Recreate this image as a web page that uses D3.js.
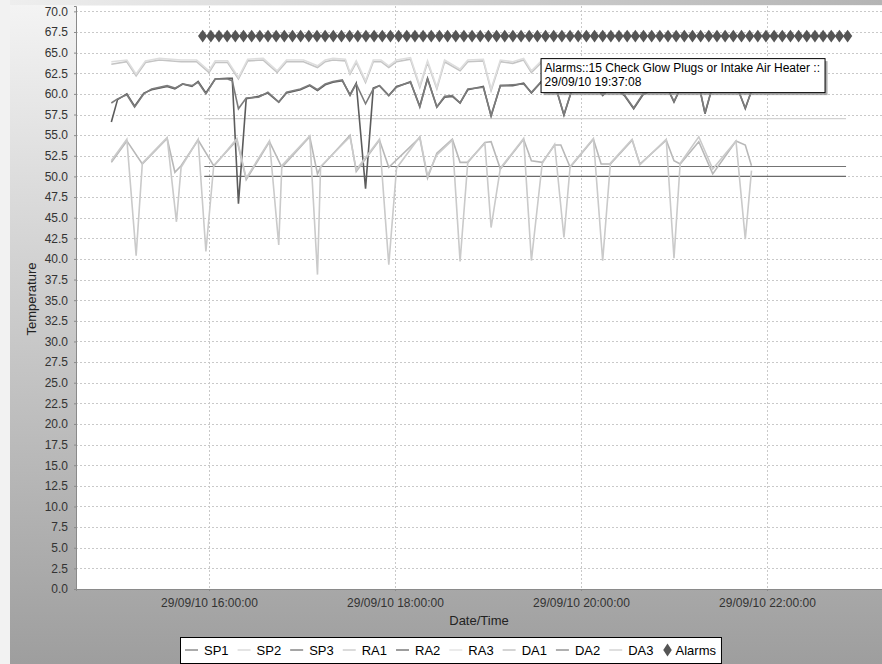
<!DOCTYPE html>
<html>
<head>
<meta charset="utf-8">
<script src="https://cdn.jsdelivr.net/npm/d3@7/dist/d3.min.js"></script>
<style>
body{margin:0;background:#f2f2f2;overflow:hidden}
svg{display:block;font-family:"Liberation Sans",Arial,Helvetica,sans-serif}
</style>
</head>
<body>
<svg id="chart" width="882" height="664"></svg>
<script>
// ---- data (29/09/10) ----
const yTicks = [0,2.5,5,7.5,10,12.5,15,17.5,20,22.5,25,27.5,30,32.5,35,37.5,40,42.5,45,47.5,50,52.5,55,57.5,60,62.5,65,67.5,70];
const xTicks = ["16:00","18:00","20:00","22:00"];

// set points
const spTimes = ["15:57","22:51"];
const sp1 = [51.2,51.2];
const sp2 = [57.0,57.0];
const sp3 = [50.0,50.0];

// return air 1 + 3
const raTimes = ["14:57","15:07","15:13","15:19","15:28","15:42","15:52","16:00","16:04","16:12","16:19","16:25","16:35","16:44","16:50","17:01","17:10","17:15","17:20","17:28","17:31","17:35","17:41","17:46","17:51","17:56","18:01","18:10","18:16","18:21","18:27","18:32","18:42","18:47","18:57","19:02","19:08","19:16","19:23","19:28","19:35","19:43","19:49","19:55","20:08","20:14","20:20","20:34","20:40","20:55","21:00","21:05","21:16","21:20","21:25","21:40","21:46","21:50"];
const ra1 = [63.6,63.9,62.2,63.8,64.1,63.9,63.9,62.6,63.8,63.8,61.8,64.0,64.1,62.6,63.9,63.9,63.2,63.9,64.1,64.0,62.4,63.8,61.4,63.9,63.9,63.2,63.9,64.2,60.8,63.8,60.6,63.9,62.8,63.9,64.0,60.4,63.9,63.7,64.1,62.6,63.9,63.9,61.7,63.9,64.0,62.2,63.9,61.9,63.9,64.0,62.5,63.9,64.0,61.6,63.9,64.0,62.2,63.8];
const ra3 = [63.9,64.1,62.4,64.0,64.3,64.1,64.1,62.8,64.0,64.0,62.0,64.2,64.3,62.8,64.1,64.1,63.4,64.1,64.3,64.2,62.6,64.0,61.6,64.1,64.1,63.4,64.1,64.4,61.0,64.0,60.8,64.1,63.0,64.1,64.2,60.6,64.1,63.9,64.3,62.8,64.1,64.1,61.9,64.1,64.2,62.4,64.1,62.1,64.1,64.2,62.7,64.1,64.2,61.8,64.1,64.2,62.4,64.0];

// return air 2 + discharge air 2
const midTimes = ["14:57","15:01","15:07","15:12","15:18","15:23","15:33","15:38","15:43","15:49","15:53","15:58","16:04","16:12","16:15","16:19","16:24","16:32","16:38","16:45","16:50","16:59","17:05","17:10","17:15","17:20","17:26","17:31","17:35","17:41","17:46","17:50","17:56","18:01","18:10","18:16","18:21","18:27","18:32","18:37","18:42","18:47","18:57","19:02","19:08","19:16","19:23","19:28","19:35","19:43","19:49","19:55","20:08","20:14","20:20","20:28","20:34","20:40","20:46","20:55","21:00","21:05","21:16","21:20","21:25","21:40","21:46","21:50"];
const ra2 = [56.6,59.3,60.0,58.5,60.1,60.5,60.9,60.6,61.2,60.9,61.5,60.1,61.8,61.9,61.9,46.7,59.4,59.7,60.1,59.0,60.1,60.5,61.0,60.4,61.1,61.4,61.6,59.9,61.3,48.5,60.7,61.0,59.8,60.9,61.4,58.5,61.9,58.4,59.6,59.7,58.9,60.5,60.9,57.3,61.0,61.0,61.3,60.1,61.6,61.3,57.4,61.0,61.2,59.8,61.0,59.8,58.2,59.9,60.5,61.0,59.0,61.0,61.2,57.6,61.0,61.2,58.2,60.4];
const da2 = [58.9,59.4,59.9,58.4,60.0,60.6,61.0,60.7,61.2,61.0,61.4,60.0,61.8,61.8,61.6,58.2,59.5,59.6,60.2,59.0,60.2,60.6,61.1,60.5,61.2,61.5,61.7,59.8,61.2,58.8,60.6,61.0,59.8,60.8,61.5,58.4,61.8,58.4,59.7,59.8,58.9,60.6,60.8,57.4,61.0,61.1,61.2,60.2,61.6,61.2,57.5,61.0,61.1,59.9,61.0,59.9,58.3,60.0,60.4,61.0,59.1,61.0,61.1,57.7,61.0,61.1,58.3,60.3];

// discharge air 1
const da1Times = ["14:57","15:07","15:17","15:33","15:38","15:42","15:53","16:03","16:18","16:24","16:39","16:47","17:05","17:10","17:12","17:31","17:35","17:50","17:56","18:16","18:21","18:27","18:37","18:42","18:47","18:58","19:02","19:08","19:23","19:28","19:35","19:43","19:47","19:53","20:08","20:13","20:19","20:33","20:38","20:55","21:00","21:04","21:16","21:25","21:40","21:46","21:50"];
const da1 = [51.7,54.3,51.5,54.6,50.5,51.3,54.4,51.3,54.4,49.6,54.2,51.1,54.8,50.3,51.1,55.0,50.6,54.4,51.1,54.7,49.8,52.8,54.5,51.7,51.7,54.1,54.2,50.9,54.5,51.9,51.7,53.8,53.8,51.1,54.5,51.5,51.5,54.4,51.5,54.4,51.9,51.5,54.2,50.3,54.3,53.8,51.3];

// discharge air 3
const da3Times = ["14:57","15:07","15:13","15:17","15:33","15:39","15:42","15:53","15:58","16:03","16:18","16:24","16:39","16:45","16:47","17:05","17:10","17:12","17:31","17:35","17:50","17:56","18:01","18:16","18:21","18:27","18:37","18:42","18:47","18:58","19:02","19:08","19:23","19:28","19:35","19:43","19:49","19:53","20:08","20:14","20:19","20:33","20:38","20:55","21:00","21:04","21:16","21:25","21:40","21:46","21:50"];
const da3 = [51.9,54.5,40.4,51.6,54.7,44.5,51.1,54.5,40.9,51.2,54.6,49.8,54.3,41.7,51.3,54.9,38.1,51.2,54.8,50.8,54.5,39.3,51.0,54.8,50.1,52.6,54.4,39.7,51.8,54.0,43.8,51.0,54.6,39.8,51.6,53.9,42.6,51.2,54.6,39.8,51.6,54.5,51.4,54.5,40.1,51.6,54.8,50.9,54.3,42.4,50.7];

// alarm events (all at 67.0)
const alarmValue = 67.0;
const alarmTimes = ["15:55:56","16:01:12","16:06:28","16:11:44","16:17:00","16:22:16","16:27:32","16:32:48","16:38:04","16:43:20","16:48:36","16:53:52","16:59:08","17:04:24","17:09:40","17:14:56","17:20:12","17:25:28","17:30:44","17:36:00","17:41:16","17:46:32","17:51:48","17:57:04","18:02:20","18:07:36","18:12:52","18:18:08","18:23:24","18:28:40","18:33:56","18:39:12","18:44:28","18:49:44","18:55:00","19:00:16","19:05:32","19:10:48","19:16:04","19:21:20","19:26:36","19:31:52","19:37:08","19:42:24","19:47:40","19:52:56","19:58:12","20:03:28","20:08:44","20:14:00","20:19:16","20:24:32","20:29:48","20:35:04","20:40:20","20:45:36","20:50:52","20:56:08","21:01:24","21:06:40","21:11:56","21:17:12","21:22:28","21:27:44","21:33:00","21:38:16","21:43:32","21:48:48","21:54:04","21:59:20","22:04:36","22:09:52","22:15:08","22:20:24","22:25:40","22:30:56","22:36:12","22:41:28","22:46:44","22:52:00"];
const tooltipLines = ["Alarms::15 Check Glow Plugs or Intake Air Heater ::","29/09/10 19:37:08"];
const tooltipAlarm = "19:37:08";

const seriesNames = ["SP1","SP2","SP3","RA1","RA2","RA3","DA1","DA2","DA3"];
const seriesColors = {SP1:"#747474",SP2:"#d2d2d2",SP3:"#6a6a6a",RA1:"#c4c4c4",RA2:"#5c5c5c",RA3:"#dedede",DA1:"#b8b8b8",DA2:"#7c7c7c",DA3:"#cacaca"};
const alarmColor = "#555555";

// ---- chart ----
const parseTime = d3.timeParse("%Y-%m-%d %H:%M:%S");
function t(s){ return parseTime("2010-09-29 " + (s.length === 5 ? s + ":00" : s)); }
function zip(times, values){ return times.map(function(s, i){ return {date: t(s), value: values[i]}; }); }

const series = {
	SP1: zip(spTimes, sp1), SP2: zip(spTimes, sp2), SP3: zip(spTimes, sp3),
	RA1: zip(raTimes, ra1), RA2: zip(midTimes, ra2), RA3: zip(raTimes, ra3),
	DA1: zip(da1Times, da1), DA2: zip(midTimes, da2), DA3: zip(da3Times, da3)
};

const svg = d3.select("#chart"),
	W = 882, H = 664,
	plot = {left: 76, right: 882, top: 6, bottom: 589};

const x = d3.scaleTime().domain([t("14:34:12"), t("23:14:12")]).range([plot.left, plot.right]);
const y = d3.scaleLinear().domain([0, 70.65]).range([plot.bottom, plot.top]);

const defs = svg.append("defs");
const bg = defs.append("linearGradient").attr("id", "bg").attr("gradientUnits", "userSpaceOnUse")
	.attr("x1", 0).attr("y1", 0).attr("x2", 0).attr("y2", H);
bg.append("stop").attr("offset", 0).attr("stop-color", "#f4f4f4");
bg.append("stop").attr("offset", 1).attr("stop-color", "#9e9e9e");
const topBand = defs.append("linearGradient").attr("id", "topband").attr("x1", 0).attr("y1", 0).attr("x2", 1).attr("y2", 0);
topBand.append("stop").attr("offset", 0).attr("stop-color", "#eeeeee");
topBand.append("stop").attr("offset", 1).attr("stop-color", "#b4b4b4");
defs.append("clipPath").attr("id", "clip").append("rect")
	.attr("x", plot.left).attr("y", plot.top).attr("width", plot.right - plot.left).attr("height", plot.bottom - plot.top);

svg.append("rect").attr("width", W).attr("height", H).attr("fill", "#f2f2f2");
svg.append("rect").attr("x", 10).attr("width", W - 10).attr("height", H).attr("fill", "url(#bg)");
svg.append("rect").attr("x", 10).attr("width", W - 10).attr("height", plot.top - 1).attr("fill", "url(#topband)");
svg.append("rect").attr("x", plot.left).attr("y", plot.top)
	.attr("width", plot.right - plot.left).attr("height", plot.bottom - plot.top).attr("fill", "#fff");

// grid
const grid = svg.append("g").attr("stroke", "#c9c9c9").attr("stroke-dasharray", "2,2").attr("stroke-width", 1);
grid.selectAll(".h").data(yTicks).enter().append("line")
	.attr("x1", plot.left).attr("x2", plot.right)
	.attr("y1", function(d){ return Math.round(y(d)) + 0.5; }).attr("y2", function(d){ return Math.round(y(d)) + 0.5; });
grid.selectAll(".v").data(xTicks).enter().append("line")
	.attr("y1", plot.top).attr("y2", plot.bottom)
	.attr("x1", function(d){ return Math.round(x(t(d))) + 0.5; }).attr("x2", function(d){ return Math.round(x(t(d))) + 0.5; });

// lines
const line = d3.line().x(function(d){ return x(d.date); }).y(function(d){ return y(d.value); });
const lines = svg.append("g").attr("clip-path", "url(#clip)").attr("fill", "none");
seriesNames.forEach(function(name){
	lines.append("path").datum(series[name])
		.attr("d", line)
		.attr("stroke", seriesColors[name])
		.attr("stroke-width", name.indexOf("SP") === 0 ? 1.2 : 1.6)
		.attr("stroke-linejoin", "miter");
});

// alarms
const diamond = d3.symbol().type(d3.symbolDiamond).size(48);
lines.selectAll(".alarm").data(alarmTimes).enter().append("path")
	.attr("d", diamond)
	.attr("transform", function(d){ return "translate(" + x(t(d)) + "," + y(alarmValue) + ") scale(1.25,1)"; })
	.attr("fill", alarmColor);

// axes
const yAxis = d3.axisLeft(y).tickValues(yTicks).tickFormat(d3.format(".1f")).tickSize(2).tickPadding(6);
const xAxis = d3.axisBottom(x).tickValues(xTicks.map(t)).tickFormat(d3.timeFormat("%d/%m/%y %H:%M:%S")).tickSize(2).tickPadding(7);
const gy = svg.append("g").attr("transform", "translate(" + plot.left + ",0)").call(yAxis);
const gx = svg.append("g").attr("transform", "translate(0," + plot.bottom + ")").call(xAxis);
[gx, gy].forEach(function(g){
	g.select(".domain").attr("stroke", "#8a8a8a");
	g.selectAll(".tick line").attr("stroke", "#8a8a8a");
	g.selectAll("text").attr("fill", "#333").style("font-size", "12px").style("font-family", "inherit");
});

svg.append("text").attr("x", 479).attr("y", 625).attr("text-anchor", "middle")
	.style("font-size", "13px").attr("fill", "#222").text("Date/Time");
svg.append("text").attr("transform", "translate(36,299) rotate(-90)").attr("text-anchor", "middle")
	.style("font-size", "13px").attr("fill", "#222").text("Temperature");

// tooltip
const tipX = x(t(tooltipAlarm)) - 5, tipY = y(alarmValue) + 22;
const tip = svg.append("g").attr("transform", "translate(" + tipX + "," + tipY + ")");
tip.append("rect").attr("x", 3).attr("y", 3).attr("width", 284).attr("height", 34).attr("fill", "#8c8c8c").attr("opacity", 0.7);
tip.append("rect").attr("x", 0.5).attr("y", 0.5).attr("width", 284).attr("height", 34).attr("fill", "#fff").attr("stroke", "#000");
tip.selectAll("text").data(tooltipLines).enter().append("text")
	.attr("x", 4).attr("y", function(d, i){ return 14 + i * 13.5; })
	.style("font-size", "12px").attr("fill", "#000").text(function(d){ return d; });

// legend
const legend = svg.append("g");
const legendBox = legend.append("rect");
const legendItems = legend.append("g");
let lx = 0;
seriesNames.concat(["Alarms"]).forEach(function(name){
	const item = legendItems.append("g").attr("transform", "translate(" + lx + ",0)");
	let textX;
	if (name === "Alarms") {
		item.append("path").attr("d", diamond).attr("transform", "translate(5,0) scale(1.15,1)").attr("fill", alarmColor);
		textX = 13;
	} else {
		item.append("line").attr("x1", 0).attr("x2", 13).attr("stroke", seriesColors[name]).attr("stroke-width", 1.2);
		textX = 19;
	}
	const txt = item.append("text").attr("x", textX).attr("y", 4.5).style("font-size", "13px").attr("fill", "#000").text(name);
	lx += textX + txt.node().getComputedTextLength() + 9;
});
const legW = lx - 9 + 10, legX = Math.round(450 - legW / 2);
legendItems.attr("transform", "translate(" + (legX + 5) + ",650)");
legendBox.attr("x", legX + 0.5).attr("y", 637.5).attr("width", legW).attr("height", 26)
	.attr("fill", "#fff").attr("stroke", "#000");
</script>
</body>
</html>
